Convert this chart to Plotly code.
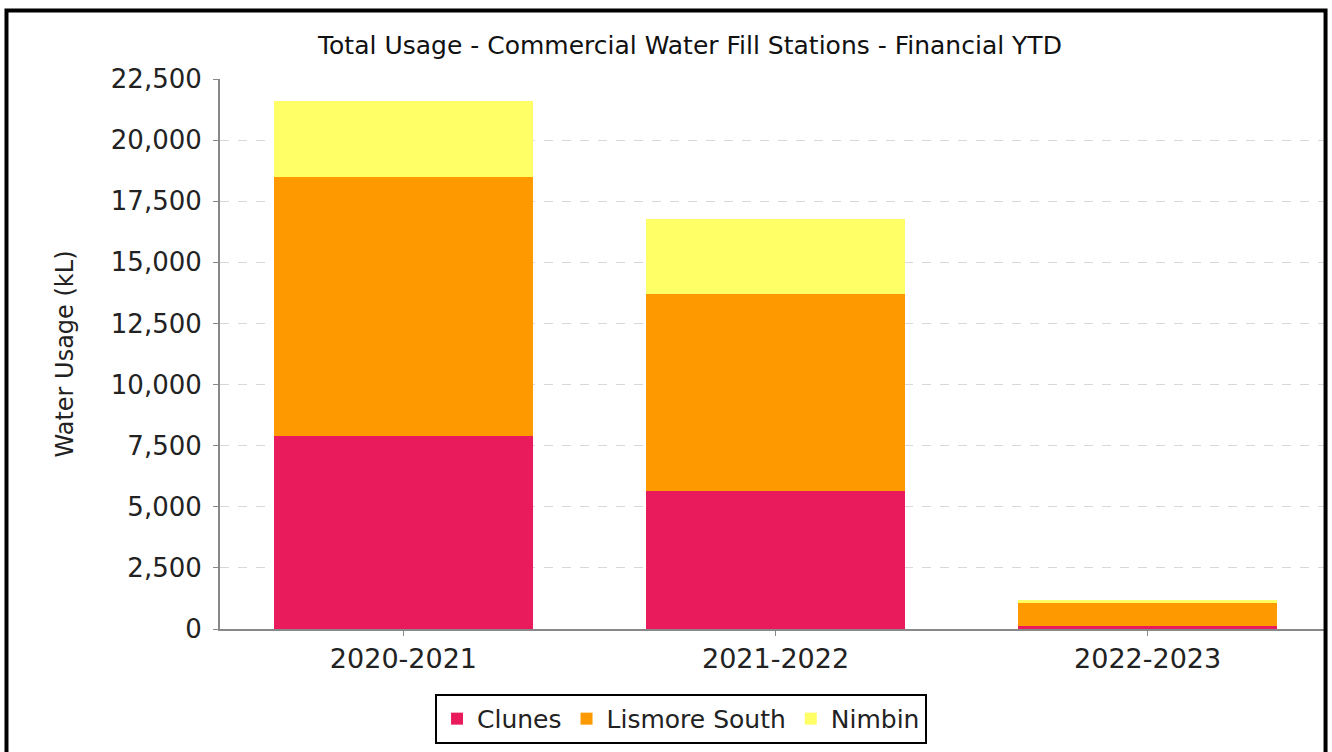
import plotly.graph_objects as go

years = ["2020-2021", "2021-2022", "2022-2023"]
clunes = [7900, 5640, 140]
lismore_south = [10600, 8050, 910]
nimbin = [3100, 3080, 140]

series = [
    ("Clunes", clunes, "#E91B5C"),
    ("Lismore South", lismore_south, "#FF9900"),
    ("Nimbin", nimbin, "#FFFF66"),
]

font = "DejaVu Sans"

fig = go.Figure()
for name, vals, color in series:
    fig.add_trace(go.Bar(x=years, y=vals, name=name, marker_color=color,
                         marker_line_width=0, width=0.696))

fig.update_layout(
    barmode="stack",
    width=1332,
    height=752,
    margin=dict(l=220, r=8, t=79, b=123),
    plot_bgcolor="white",
    paper_bgcolor="white",
    font=dict(family=font, size=24, color="#222"),
    title=dict(text="Total Usage - Commercial Water Fill Stations - Financial YTD",
               x=0.518, xanchor="center", y=1 - 45 / 752, yanchor="middle",
               font=dict(size=25, color="#111")),
    legend=dict(orientation="h", x=0.4176, xanchor="center", y=-0.118, yanchor="top",
                bordercolor="black", borderwidth=2, font=dict(size=25),
                traceorder="normal"),
    shapes=[dict(type="rect", xref="paper", yref="paper",
                 x0=-0.1934, x1=1.0014, y0=-0.4, y1=1.1245,
                 line=dict(color="black", width=4), layer="above")],
)
fig.update_xaxes(range=[-0.493, 2.474], showline=True, linecolor="#888", linewidth=2,
                 ticks="outside", ticklen=5, tickcolor="#888", showgrid=False,
                 tickfont=dict(size=27))
fig.update_yaxes(range=[0, 22500], dtick=2500, tickformat=",", showline=True,
                 linecolor="#888", linewidth=2, ticks="outside", ticklen=5,
                 tickcolor="#888", gridcolor="#d8d8d8", griddash="dash",
                 zeroline=False, tickfont=dict(size=26), ticklabelstandoff=6,
                 title=dict(text="Water Usage (kL)", font=dict(size=24), standoff=30))

fig.write_html("out.html", config={"displayModeBar": False},
               post_script="document.body.style.margin='0';")
